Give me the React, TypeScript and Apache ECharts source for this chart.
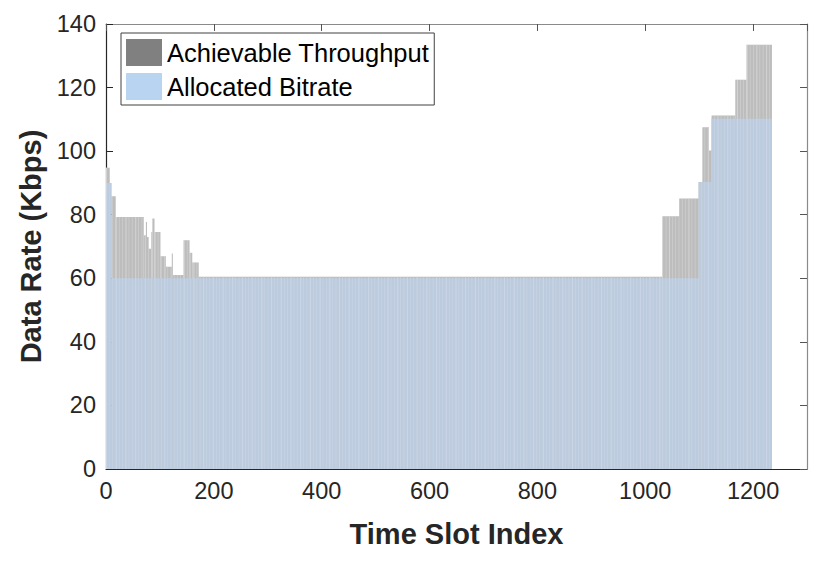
import React, { useEffect, useRef } from "react";
import * as echarts from "echarts";

// Step segments of time slots: [start, end)
const segStart = [0, 7, 10, 18, 70, 74, 76, 79, 84, 86, 90, 101, 111, 122, 124, 127, 144, 155, 160, 172, 1032, 1063, 1099, 1106, 1118, 1123, 1167, 1188];
const segEnd = [7, 10, 18, 70, 74, 76, 79, 84, 86, 90, 101, 111, 122, 124, 127, 144, 155, 160, 172, 1032, 1063, 1099, 1106, 1118, 1123, 1167, 1188, 1235];
const throughput = [94.8, 90, 85.8, 79.3, 73.5, 77.7, 73, 69.3, 74.6, 78.8, 74.6, 66.9, 63.6, 67.8, 61, 61, 72, 68, 65, 60.5, 79.5, 85.1, 90.3, 107.5, 100.2, 111.2, 122.5, 133.5];
const allocated = [90, 90, 60, 60, 60, 60, 60, 60, 60, 60, 60, 60, 60, 60, 60, 60, 60, 60, 60, 60, 60, 60, 90.3, 90.3, 90.3, 110.2, 110.2, 110.2];

const xTicks = { min: 0, max: 1300, interval: 200 };
const yTicks = { min: 0, max: 140, interval: 20 };

const FONT = "'Liberation Sans', Arial, Helvetica, sans-serif";
const TXT = "#262626";

function makeRender(fill: string, stripe: string) {
  return (params: any, api: any) => {
    const s = api.value(0);
    const e = api.value(1);
    const v = api.value(2);
    const p0 = api.coord([s, v]);
    const p1 = api.coord([e, 0]);
    const h = p1[1] - p0[1];
    const children: any[] = [
      { type: "rect", shape: { x: p0[0], y: p0[1], width: p1[0] - p0[0], height: h }, style: { fill } },
    ];
    const step = 6;
    for (let k = Math.ceil(s / step) * step; k < e; k += step) {
      const px = api.coord([k, 0])[0];
      const w = (k / step) % 3 === 0 ? 1.1 : 0.6;
      children.push({ type: "rect", shape: { x: px, y: p0[1], width: w, height: h }, style: { fill: stripe } });
    }
    return { type: "group", children };
  };
}

export default function App() {
  const ref = useRef<HTMLDivElement>(null);
  useEffect(() => {
    document.body.style.margin = "0";
    if (!ref.current) return;
    const chart = echarts.init(ref.current, undefined, { renderer: "svg" });
    const thrData = segStart.map((s, i) => [s, segEnd[i], throughput[i]]);
    const allocData = segStart.map((s, i) => [s, segEnd[i], allocated[i]]);
    chart.setOption({
      animation: false,
      backgroundColor: "#ffffff",
      textStyle: { fontFamily: FONT },
      grid: { left: 106, right: 24, top: 24, bottom: 93, containLabel: false },
      legend: {
        orient: "vertical",
        left: 121,
        top: 33,
        padding: [6, 5, 5, 5],
        itemGap: 7,
        itemWidth: 36,
        itemHeight: 27,
        icon: "rect",
        backgroundColor: "#ffffff",
        borderColor: "#404040",
        borderWidth: 1,
        borderRadius: 0,
        textStyle: { fontSize: 25.5, color: "#000000", fontFamily: FONT },
        data: ["Achievable Throughput", "Allocated Bitrate"],
      },
      xAxis: [
        {
          type: "value",
          position: "bottom",
          ...xTicks,
          name: "Time Slot Index",
          nameLocation: "middle",
          nameGap: 50,
          nameTextStyle: { fontSize: 29, fontWeight: "bold", color: TXT, fontFamily: FONT },
          axisLine: { show: true, onZero: false, lineStyle: { color: TXT, width: 1.2 } },
          axisTick: { show: true, inside: true, length: 7, lineStyle: { color: TXT } },
          axisLabel: {
            fontSize: 23.5,
            color: TXT,
            margin: 10,
            showMaxLabel: false,
            fontFamily: FONT,
            formatter: (v: number) => String(v),
          },
          splitLine: { show: false },
        },
        {
          type: "value",
          position: "top",
          ...xTicks,
          axisLine: { show: true, onZero: false, lineStyle: { color: "#8a8a8a", width: 1.2 } },
          axisTick: { show: true, inside: true, length: 7, lineStyle: { color: "#555555" } },
          axisLabel: { show: false },
          splitLine: { show: false },
        },
      ],
      yAxis: [
        {
          type: "value",
          position: "left",
          ...yTicks,
          name: "Data Rate (Kbps)",
          nameLocation: "middle",
          nameGap: 49,
          nameTextStyle: { fontSize: 29, fontWeight: "bold", color: TXT, fontFamily: FONT },
          axisLine: { show: true, onZero: false, lineStyle: { color: TXT, width: 1.2 } },
          axisTick: { show: true, inside: true, length: 7, lineStyle: { color: TXT } },
          axisLabel: { fontSize: 23.5, color: TXT, margin: 10, fontFamily: FONT, formatter: (v: number) => String(v) },
          splitLine: { show: false },
        },
        {
          type: "value",
          position: "right",
          ...yTicks,
          axisLine: { show: true, onZero: false, lineStyle: { color: "#8a8a8a", width: 1.2 } },
          axisTick: { show: true, inside: true, length: 7, lineStyle: { color: "#555555" } },
          axisLabel: { show: false },
          splitLine: { show: false },
        },
      ],
      series: [
        {
          name: "Achievable Throughput",
          type: "custom",
          xAxisIndex: 0,
          yAxisIndex: 0,
          itemStyle: { color: "#808080" },
          renderItem: makeRender("#bdbdbd", "#d2d2d2"),
          encode: { x: [0, 1], y: 2 },
          data: thrData,
          z: 1,
        },
        {
          name: "Allocated Bitrate",
          type: "custom",
          xAxisIndex: 0,
          yAxisIndex: 0,
          itemStyle: { color: "#b8d4f0" },
          renderItem: makeRender("#bccbdd", "#cad6e6"),
          encode: { x: [0, 1], y: 2 },
          data: allocData,
          z: 2,
        },
      ],
    });
    return () => chart.dispose();
  }, []);
  return (
    <div
      ref={ref}
      style={{ width: 831, height: 562, position: "absolute", left: 0, top: 0 }}
    />
  );
}
